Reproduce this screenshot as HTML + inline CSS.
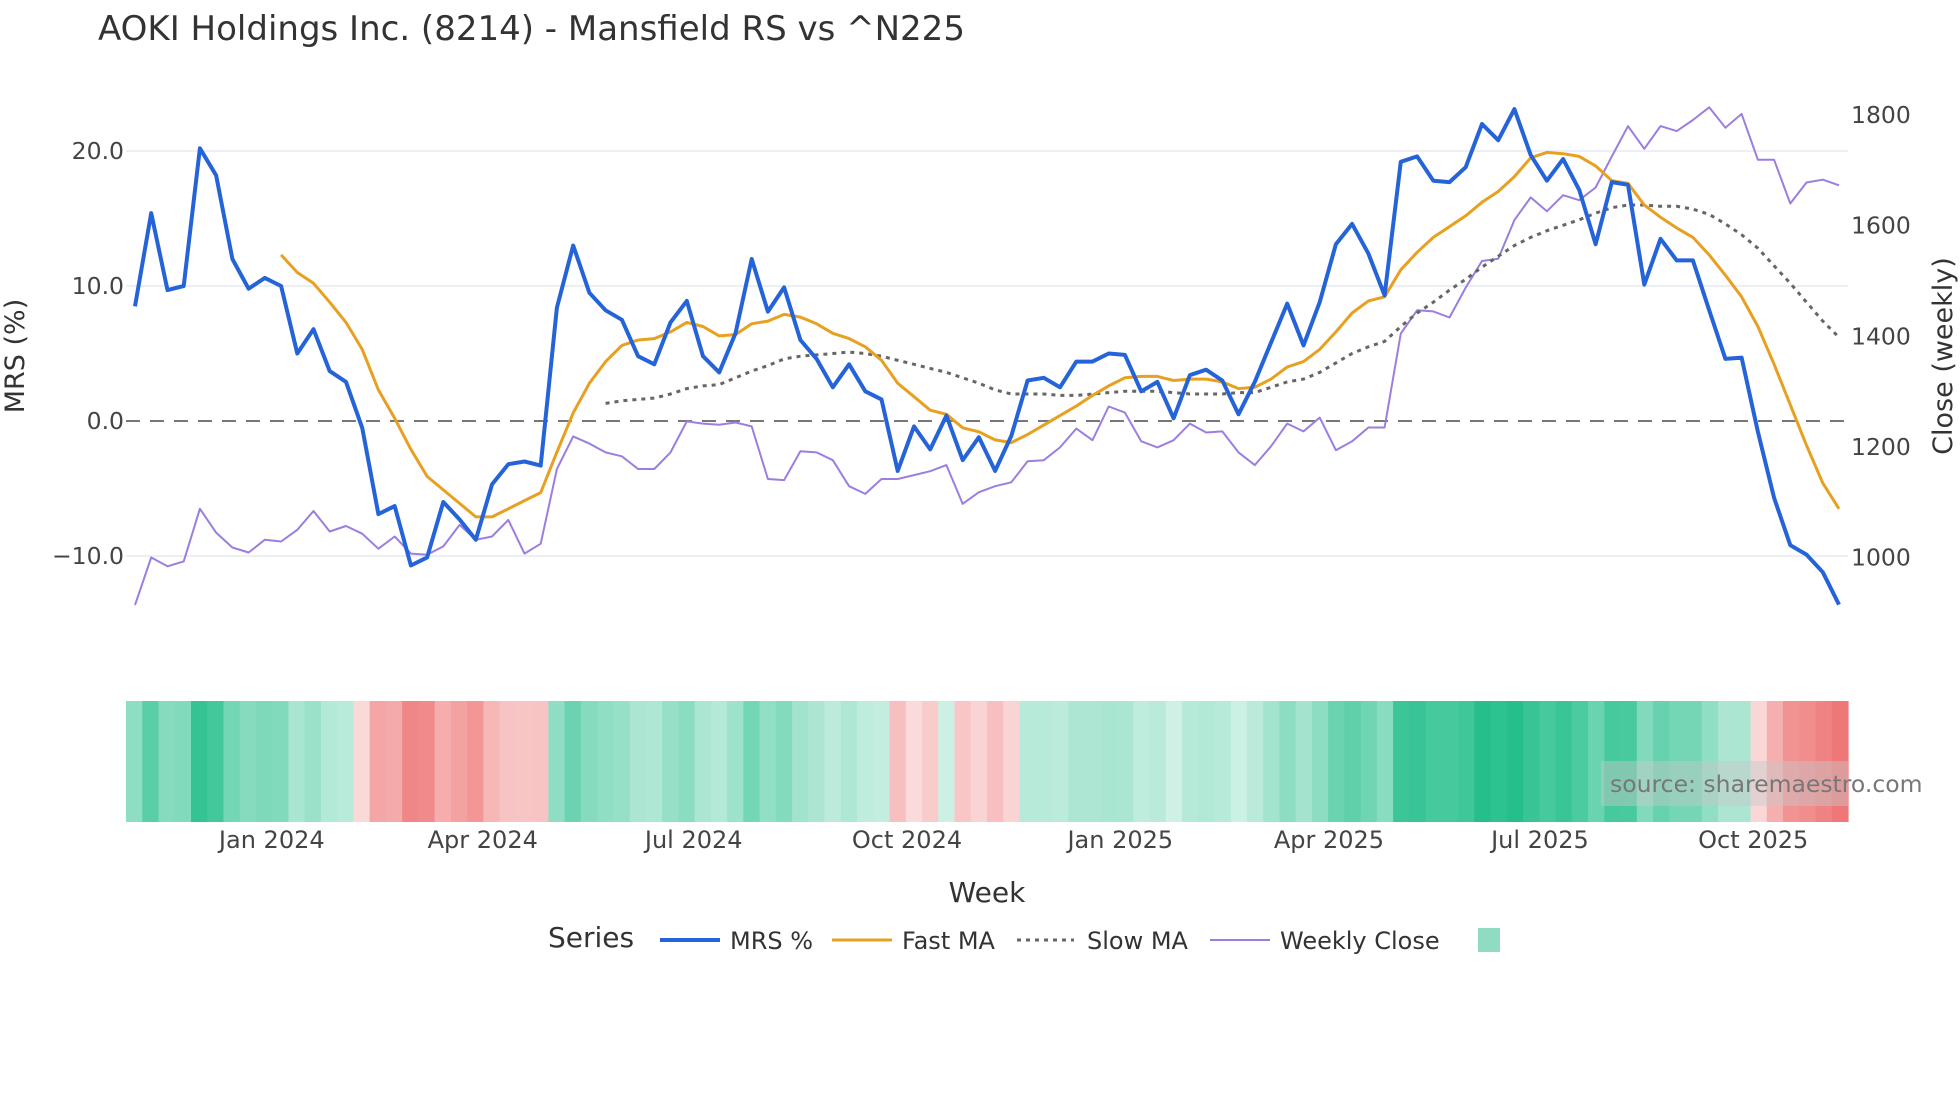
<!DOCTYPE html>
<html><head><meta charset="utf-8">
<style>
html,body{margin:0;padding:0;background:#fff;}
svg text{font-family:"DejaVu Sans","Liberation Sans",sans-serif;fill:#444;}
</style></head>
<body>
<svg id="chart" width="1960" height="1102" xmlns="http://www.w3.org/2000/svg">
<rect width="1960" height="1102" fill="#fff"/>
<text x="98" y="40" font-size="34" style="fill:#333">AOKI Holdings Inc. (8214) - Mansfield RS vs ^N225</text>
<g id="grid"></g>
<g id="heat"></g>
<g id="lines"></g>
<g id="axes"></g>
<rect x="1601" y="761" width="247" height="45" fill="rgba(200,200,200,0.45)"/>
<text x="1610" y="792" font-size="23.5" style="fill:#777">source: sharemaestro.com</text>
<text transform="translate(24,356) rotate(-90)" text-anchor="middle" font-size="27" style="fill:#333">MRS (%)</text>
<text transform="translate(1952,356) rotate(-90)" text-anchor="middle" font-size="27" style="fill:#333">Close (weekly)</text>
<text x="987" y="902" text-anchor="middle" font-size="28" style="fill:#333">Week</text>
<g>
<text x="548" y="947" font-size="28" style="fill:#333">Series</text>
<g><line x1="660" y1="940" x2="720" y2="940" stroke="#2563d9" stroke-width="4"/><text x="730" y="949" font-size="24" style="fill:#333">MRS %</text></g>
<g><line x1="832" y1="940" x2="892" y2="940" stroke="#e8a020" stroke-width="3"/><text x="902" y="949" font-size="24" style="fill:#333">Fast MA</text></g>
<g><line x1="1017" y1="940" x2="1074" y2="940" stroke="#666" stroke-width="3" stroke-dasharray="4,5"/><text x="1087" y="949" font-size="24" style="fill:#333">Slow MA</text></g>
<g><line x1="1210" y1="940" x2="1270" y2="940" stroke="#9b7ee0" stroke-width="2"/><text x="1280" y="949" font-size="24" style="fill:#333">Weekly Close</text></g>
<rect x="1478" y="928" width="22" height="24" fill="#8fdcc2"/>
</g>
</svg>
<script>
const startDate = "2023-11-03";
const mrs = [8.5,15.4,9.7,10.0,20.2,18.2,12.0,9.8,10.6,10.0,5.0,6.8,3.7,2.9,-0.5,-6.9,-6.3,-10.7,-10.1,-6.0,-7.3,-8.8,-4.7,-3.2,-3.0,-3.3,8.4,13.0,9.5,8.2,7.5,4.8,4.2,7.3,8.9,4.8,3.6,6.5,12.0,8.1,9.9,6.0,4.6,2.5,4.2,2.2,1.6,-3.7,-0.4,-2.1,0.4,-2.9,-1.2,-3.7,-1.1,3.0,3.2,2.5,4.4,4.4,5.0,4.9,2.2,2.9,0.2,3.4,3.8,3.0,0.5,2.9,5.8,8.7,5.6,8.8,13.1,14.6,12.4,9.3,19.2,19.6,17.8,17.7,18.8,22.0,20.8,23.1,19.7,17.8,19.4,17.1,13.1,17.7,17.5,10.1,13.5,11.9,11.9,8.2,4.6,4.7,-0.8,-5.7,-9.2,-9.9,-11.2,-13.6];
const fastMA = [null,null,null,null,null,null,null,null,null,12.3,11.0,10.2,8.8,7.3,5.3,2.3,0.2,-2.1,-4.1,-5.1,-6.1,-7.1,-7.1,-6.5,-5.9,-5.3,-2.3,0.6,2.8,4.4,5.6,6.0,6.1,6.6,7.3,7.0,6.3,6.4,7.2,7.4,7.9,7.7,7.2,6.5,6.1,5.5,4.5,2.8,1.8,0.8,0.5,-0.5,-0.8,-1.4,-1.6,-1.0,-0.3,0.4,1.1,1.9,2.6,3.2,3.3,3.3,3.0,3.1,3.1,2.9,2.4,2.5,3.1,4.0,4.4,5.3,6.6,8.0,8.9,9.2,11.2,12.5,13.6,14.4,15.2,16.2,17.0,18.1,19.5,19.9,19.8,19.6,18.9,17.8,17.6,16.0,15.1,14.3,13.6,12.3,10.8,9.2,7.0,4.2,1.2,-1.8,-4.6,-6.5];
const slowMA = [null,null,null,null,null,null,null,null,null,null,null,null,null,null,null,null,null,null,null,null,null,null,null,null,null,null,null,null,null,1.3,1.5,1.6,1.7,2.0,2.4,2.6,2.7,3.2,3.7,4.1,4.6,4.8,4.9,5.0,5.1,5.0,4.8,4.5,4.2,3.9,3.6,3.2,2.8,2.3,2.0,2.0,2.0,1.9,1.9,2.0,2.1,2.2,2.2,2.2,2.1,2.0,2.0,2.0,2.1,2.1,2.5,2.9,3.1,3.6,4.3,5.0,5.5,5.9,7.0,8.0,8.8,9.7,10.5,11.4,12.2,13.0,13.6,14.1,14.5,14.9,15.4,15.8,16.0,16.0,15.9,15.9,15.7,15.3,14.6,13.8,12.8,11.5,10.2,8.8,7.4,6.2];
const closeVals = [914,1000,984,993,1088,1045,1018,1009,1032,1029,1050,1084,1047,1057,1043,1016,1038,1007,1005,1020,1059,1032,1038,1068,1007,1025,1160,1219,1206,1190,1183,1160,1160,1190,1246,1242,1240,1244,1237,1142,1140,1192,1190,1176,1129,1115,1142,1142,1149,1156,1167,1097,1118,1129,1136,1174,1176,1199,1233,1212,1273,1262,1210,1199,1212,1242,1226,1228,1190,1167,1201,1242,1228,1253,1194,1210,1235,1235,1405,1447,1445,1434,1488,1536,1540,1610,1651,1626,1655,1646,1669,1725,1780,1739,1780,1771,1791,1814,1777,1802,1719,1719,1640,1678,1683,1673];
const yTicks = [-10,0,10,20];
const yTickLabels = ["\u221210.0","0.0","10.0","20.0"];
const y2Ticks = [1000,1200,1400,1600,1800];
const xTickDates = ["2024-01-01","2024-04-01","2024-07-01","2024-10-01","2025-01-01","2025-04-01","2025-07-01","2025-10-01"];
const xTickLabels = ["Jan 2024","Apr 2024","Jul 2024","Oct 2024","Jan 2025","Apr 2025","Jul 2025","Oct 2025"];

const NS="http://www.w3.org/2000/svg";
const X0=135, STEP=1704/105, PXDAY=STEP/7;
const xi=i=>X0+i*STEP;
const xd=d=>X0+(Date.parse(d)-Date.parse(startDate))/86400000*PXDAY;
const y=v=>421-13.5*v;
const y2=v=>557.5-(v-1000)*0.5531;
function mk(tag,attrs,parent){const e=document.createElementNS(NS,tag);for(const k in attrs)e.setAttribute(k,attrs[k]);parent.appendChild(e);return e;}
const grid=document.getElementById('grid'),axes=document.getElementById('axes'),lines=document.getElementById('lines'),heat=document.getElementById('heat');

yTicks.forEach((t,k)=>{
  let g;
  if(t===0){g=mk('line',{x1:126,x2:1848,y1:y(t),y2:y(t),stroke:'#777','stroke-width':2,'stroke-dasharray':'14,10'},grid);}
  else{g=mk('line',{x1:126,x2:1848,y1:y(t),y2:y(t),stroke:'#eceff3','stroke-width':2},grid);}
  
  
  const tx=mk('text',{x:124,y:y(t)+8,'text-anchor':'end','font-size':23.5},axes);
  tx.textContent=yTickLabels[k];
  
  
});
y2Ticks.forEach(t=>{
  const tx=mk('text',{x:1851,y:y2(t)+8,'font-size':23.5},axes);
  tx.textContent=String(t);
  
  
});
xTickDates.forEach((d,k)=>{
  const tx=mk('text',{x:xd(d),y:848,'text-anchor':'middle','font-size':24},axes);
  tx.textContent=xTickLabels[k];
  
  
});

function heatColor(v){
  if(v>=0){const a=Math.min(1,0.22+v/22*0.78);return `rgb(${Math.round(255-(255-38)*a)},${Math.round(255-(255-191)*a)},${Math.round(255-(255-140)*a)})`;}
  const a=Math.min(1,0.25+(-v)/10*0.6);return `rgb(${Math.round(255-(255-238)*a)},${Math.round(255-(255-120)*a)},${Math.round(255-(255-120)*a)})`;
}
const cw=(1848-126)/mrs.length;
mrs.forEach((v,i)=>{
  const r=mk('rect',{x:126+i*cw,y:701,width:cw+0.6,height:121,fill:heatColor(v)},heat);
  
  
});

function path(arr,fy){let d='';arr.forEach((v,i)=>{if(v===null)return;d+=(d?'L':'M')+xi(i).toFixed(1)+','+fy(v).toFixed(1);});return d;}
const pc=mk('path',{d:path(closeVals,y2),fill:'none',stroke:'#9b7ee0','stroke-width':2,'stroke-linejoin':'round'},lines);


const ps=mk('path',{d:path(slowMA,y),fill:'none',stroke:'#666','stroke-width':3,'stroke-dasharray':'4,5'},lines);


const pf=mk('path',{d:path(fastMA,y),fill:'none',stroke:'#e8a020','stroke-width':3,'stroke-linejoin':'round'},lines);


const pm=mk('path',{d:path(mrs,y),fill:'none',stroke:'#2563d9','stroke-width':4,'stroke-linejoin':'round'},lines);


</script>
</body></html>
